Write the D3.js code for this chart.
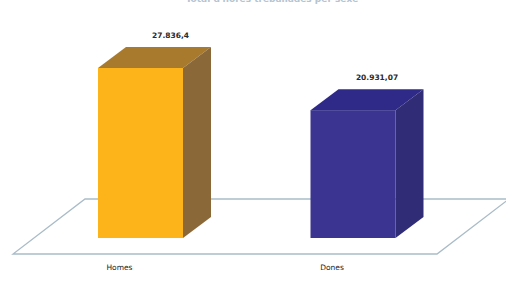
<!DOCTYPE html>
<html><head><meta charset="utf-8">
<script src="https://cdn.jsdelivr.net/npm/d3@7"></script>
<style>html,body{margin:0;padding:0;background:#fff;overflow:hidden}</style>
</head><body>
<svg id="c" width="506" height="291"></svg>
<script>
const categories = ["Homes", "Dones"];
const values = [27836.4, 20931.07];
const frontColors = ["#FDB31A", "#3B3490"];
const sideColors = ["#8A6838", "#302C76"];
const topColors = ["#A87A2E", "#2F2A88"];
const title = "Total d'hores treballades per sexe";

const svg = d3.select("#c");
const loc = d3.formatLocale({decimal: ",", thousands: ".", grouping: [3], currency: ["", "€"]});
const fmt = loc.format(",");

const x = d3.scalePoint().domain(categories).range([140.5, 353]);
const y = d3.scaleLinear().domain([0, d3.max(values)]).range([238, 68]);
const bw = 85, dx = 28, dy = -21;

// title (mostly cut off at top, as in the reference)
svg.append("text").attr("x", 272).attr("y", 1.5).attr("text-anchor", "middle")
  .attr("font-family", "DejaVu Sans").attr("font-size", 9).attr("font-weight", "bold")
  .attr("fill", "#B5C4D2").text(title);

// floor
const fl = {x0: 13, x1: 437, y: 254, ddx: 72, ddy: -55};
svg.append("path")
  .attr("d", `M${fl.x0},${fl.y}L${fl.x1},${fl.y}L${fl.x1 + fl.ddx},${fl.y + fl.ddy}L${fl.x0 + fl.ddx},${fl.y + fl.ddy}Z`)
  .attr("fill", "#fff").attr("stroke", "#A9BCC8").attr("stroke-width", 1.3);

const g = svg.selectAll("g.bar").data(categories).join("g").attr("class", "bar");
g.each(function(c, i) {
  const s = d3.select(this);
  const l = x(c) - bw / 2, r = x(c) + bw / 2, t = y(values[i]), b = y(0);
  s.append("path").attr("d", `M${l},${t}L${l + dx},${t + dy}L${r + dx},${t + dy}L${r},${t}Z`).attr("fill", topColors[i]);
  s.append("path").attr("d", `M${r},${t}L${r + dx},${t + dy}L${r + dx},${b + dy}L${r},${b}Z`).attr("fill", sideColors[i]);
  s.append("rect").attr("x", l).attr("y", t).attr("width", bw).attr("height", b - t).attr("fill", frontColors[i]);
  s.append("text").attr("x", x(c) + dx + 2 - i * 6).attr("y", t + dy - 9).attr("text-anchor", "middle")
    .attr("font-family", "DejaVu Sans").attr("font-size", 7.5).attr("font-weight", "bold")
    .attr("fill", "#2a2a2a").text(fmt(values[i]));
  s.append("text").attr("x", x(c) - 21).attr("y", 270).attr("text-anchor", "middle")
    .attr("font-family", "DejaVu Sans").attr("font-size", 7.5)
    .attr("fill", "#222").text(c);
});
</script>
</body></html>
